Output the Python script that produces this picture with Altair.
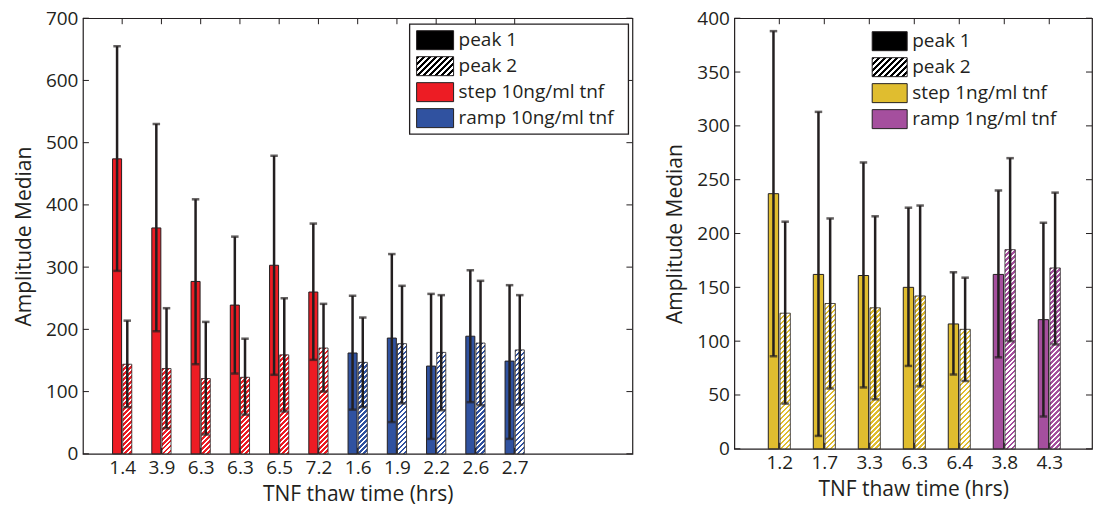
import altair as alt
import pandas as pd

FONT = "Open Sans"
DARK = "#231F20"

# ---------------- data ----------------
left_labels = ["1.4", "3.9", "6.3", "6.3", "6.5", "7.2", "1.6", "1.9", "2.2", "2.6", "2.7"]
left_type = ["step", "step", "step", "step", "step", "step", "ramp", "ramp", "ramp", "ramp", "ramp"]
left_p1 = [474, 363, 277, 239, 303, 260, 162, 186, 141, 189, 149]
left_p1_lo = [294, 197, 144, 129, 127, 151, 71, 51, 24, 83, 24]
left_p1_hi = [655, 530, 409, 349, 479, 370, 254, 321, 257, 295, 271]
left_p2 = [144, 137, 121, 123, 159, 170, 147, 177, 163, 178, 167]
left_p2_lo = [75, 41, 31, 63, 68, 100, 75, 81, 70, 78, 79]
left_p2_hi = [214, 234, 212, 185, 250, 241, 219, 270, 255, 278, 255]
left_legend = ["peak 1", "peak 2", "step 10ng/ml tnf", "ramp 10ng/ml tnf"]
left_yticks = [0, 100, 200, 300, 400, 500, 600, 700]

right_labels = ["1.2", "1.7", "3.3", "6.3", "6.4", "3.8", "4.3"]
right_type = ["step", "step", "step", "step", "step", "ramp", "ramp"]
right_p1 = [237, 162, 161, 150, 116, 162, 120]
right_p1_lo = [86, 12, 57, 77, 69, 85, 30]
right_p1_hi = [388, 313, 266, 224, 164, 240, 210]
right_p2 = [126, 135, 131, 142, 111, 185, 168]
right_p2_lo = [42, 56, 46, 58, 63, 100, 97]
right_p2_hi = [211, 214, 216, 226, 159, 270, 238]
right_legend = ["peak 1", "peak 2", "step 1ng/ml tnf", "ramp 1ng/ml tnf"]
right_yticks = [0, 50, 100, 150, 200, 250, 300, 350, 400]

LEFT_COLORS = ["#ED1C24", "#3052A0"]
RIGHT_COLORS = ["#E0BD2F", "#A54F9E"]

OFF = 0.13     # half distance between the two bars of a group (in slots)
HALF = 0.115   # half bar width (in slots)


def hatch(color, w, h, period=5.0):
    """Diagonal '///' stripes as a bounding-box linear gradient."""
    L = w + h
    lam = L / (w * w + h * h)
    stops = []
    k = 0
    while k * period / L < 1:
        a = k * period / L
        m = min((k + 0.5) * period / L, 1.0)
        b = min((k + 1) * period / L, 1.0)
        stops += [(a, color), (m, color), (m, "#FFFFFF"), (b, "#FFFFFF")]
        k += 1
    return alt.LinearGradient(
        gradient="linear",
        stops=[alt.GradientStop(color=c, offset=round(o, 5)) for o, c in stops],
        x1=0, y1=0, x2=w * lam, y2=h * lam,
    )


def panel(labels, types, p1, p1lo, p1hi, p2, p2lo, p2hi, colors, legend_labels,
          W, H, xmax, ymax, yticks, legend_box, leg_sw_x, leg_txt_x, leg_rows):
    n = len(labels)
    rows = []
    for i in range(n):
        rows.append(dict(g=i + 1, peak=1, v=p1[i], lo=p1lo[i], hi=p1hi[i], t=types[i]))
        rows.append(dict(g=i + 1, peak=2, v=p2[i], lo=p2lo[i], hi=p2hi[i], t=types[i]))
    df = pd.DataFrame(rows)

    xs = alt.Scale(domain=[0, xmax], nice=False, zero=False)
    ys = alt.Scale(domain=[0, ymax], nice=False)
    expr = "[" + ",".join('"%s"' % s for s in labels) + "][datum.value - 1]"
    xaxis = alt.Axis(values=list(range(1, n + 1)), labelExpr=expr, title="TNF thaw time (hrs)",
                     labelAngle=0, labelOverlap=False, labelFlush=False,
                     labelPadding=5, titlePadding=6)
    yaxis = alt.Axis(values=yticks, title="Amplitude Median", labelFlush=False,
                     labelOverlap=False, labelPadding=5, titlePadding=11)

    base = alt.Chart(df).transform_calculate(
        c="datum.g + (datum.peak == 1 ? -1 : 1) * %f" % OFF
    ).transform_calculate(
        xa="datum.c - %f" % HALF
    ).transform_calculate(
        xb="datum.c + %f" % HALF
    ).transform_calculate(
        z="0"
    )

    layers = []
    # peak 1 solid bars
    layers.append(
        base.transform_filter("datum.peak == 1").mark_bar(stroke=DARK, strokeWidth=1).encode(
            x=alt.X("xa:Q", scale=xs, axis=xaxis),
            x2="xb:Q",
            y=alt.Y("v:Q", scale=ys, axis=yaxis),
            y2="z:Q",
            color=alt.Color("t:N", scale=alt.Scale(domain=["step", "ramp"], range=colors), legend=None),
        )
    )
    # peak 2 hatched bars
    bw = 2 * HALF * W / xmax
    for i in range(n):
        col = colors[0] if types[i] == "step" else colors[1]
        hpx = p2[i] * H / ymax
        layers.append(
            base.transform_filter("datum.peak == 2 && datum.g == %d" % (i + 1)).mark_bar(
                fill=hatch(col, bw, hpx), stroke=DARK, strokeWidth=0.8
            ).encode(
                x=alt.X("xa:Q", scale=xs, axis=xaxis),
                x2="xb:Q",
                y=alt.Y("v:Q", scale=ys, axis=yaxis),
                y2="z:Q",
            )
        )
    # error bars
    layers.append(
        base.mark_rule(color=DARK, strokeWidth=2.5).encode(
            x=alt.X("c:Q", scale=xs, axis=xaxis),
            y=alt.Y("lo:Q", scale=ys, axis=yaxis),
            y2="hi:Q",
        )
    )
    for fld in ["lo", "hi"]:
        layers.append(
            base.mark_tick(orient="horizontal", size=7.5, thickness=2.5, color=DARK).encode(
                x=alt.X("c:Q", scale=xs, axis=xaxis),
                y=alt.Y(fld + ":Q", scale=ys, axis=yaxis),
            )
        )
    # inward ticks (box on all four sides)
    ydf = pd.DataFrame({"yt": yticks})
    xdf = pd.DataFrame({"xt": list(range(1, n + 1))})
    for xa_, xb_ in [(0, 6), (W - 6, W)]:
        layers.append(
            alt.Chart(ydf).mark_rule(color=DARK, strokeWidth=1).encode(
                y=alt.Y("yt:Q", scale=ys, axis=yaxis), x=alt.value(xa_), x2=alt.value(xb_)
            )
        )
    for ya_, yb_ in [(0, 6), (H - 6, H)]:
        layers.append(
            alt.Chart(xdf).mark_rule(color=DARK, strokeWidth=1).encode(
                x=alt.X("xt:Q", scale=xs, axis=xaxis), y=alt.value(ya_), y2=alt.value(yb_)
            )
        )
    # legend
    if legend_box is not None:
        bx1, by1, bx2, by2 = legend_box
        layers.append(
            alt.Chart(pd.DataFrame({"k": [0]})).mark_rect(fill="white", stroke=DARK, strokeWidth=1.3).encode(
                x=alt.value(bx1), x2=alt.value(bx2), y=alt.value(by1), y2=alt.value(by2)
            )
        )
    sw_w = leg_sw_x[1] - leg_sw_x[0]
    sw_h = 19
    fills = ["#000000", hatch("#000000", sw_w, sw_h, period=6.0), colors[0], colors[1]]
    for lab, cy, f in zip(legend_labels, leg_rows, fills):
        d = pd.DataFrame({"label": [lab]})
        layers.append(
            alt.Chart(d).mark_rect(fill=f, stroke=DARK, strokeWidth=1).encode(
                x=alt.value(leg_sw_x[0]), x2=alt.value(leg_sw_x[1]),
                y=alt.value(cy - sw_h / 2), y2=alt.value(cy + sw_h / 2),
            )
        )
        layers.append(
            alt.Chart(d).mark_text(align="left", baseline="middle", fontSize=19, font=FONT, color=DARK).encode(
                x=alt.value(leg_txt_x), y=alt.value(cy), text="label:N"
            )
        )
    return alt.layer(*layers).properties(width=W, height=H)


LW, LH = 550, 436
RW, RH = 358, 431

left = panel(left_labels, left_type, left_p1, left_p1_lo, left_p1_hi,
             left_p2, left_p2_lo, left_p2_hi, LEFT_COLORS, left_legend,
             LW, LH, 14, 700, left_yticks,
             legend_box=(327, 6, 546, 116), leg_sw_x=(334, 371), leg_txt_x=376,
             leg_rows=[22, 48, 74, 100])

right = panel(right_labels, right_type, right_p1, right_p1_lo, right_p1_hi,
              right_p2, right_p2_lo, right_p2_hi, RIGHT_COLORS, right_legend,
              RW, RH, 7.95, 400, right_yticks,
              legend_box=None, leg_sw_x=(138, 173), leg_txt_x=178,
              leg_rows=[23, 49, 75, 101])

chart = alt.hconcat(left, right, spacing=29).resolve_scale(
    color="independent"
).configure_view(
    stroke=DARK, strokeWidth=1.2
).configure_axis(
    grid=False, domain=False, ticks=False,
    labelFont=FONT, labelFontSize=19, labelColor=DARK,
    titleFont=FONT, titleFontSize=21, titleFontWeight="normal", titleColor=DARK,
).properties(
    padding={"left": 12, "top": 8, "right": 0, "bottom": 0},
    background="white",
)

chart.save("out.html", embed_options={"renderer": "svg", "actions": False})
